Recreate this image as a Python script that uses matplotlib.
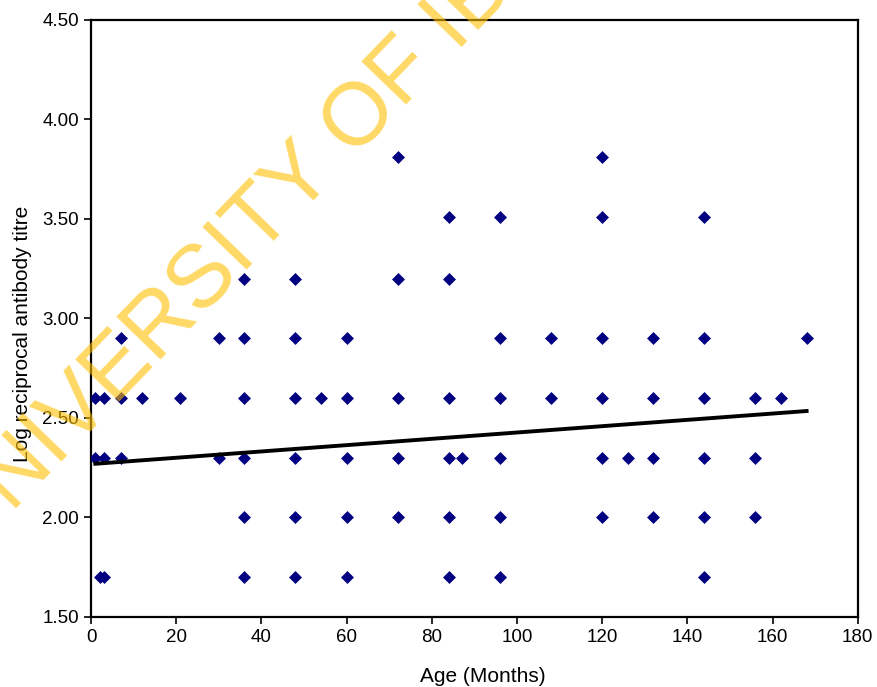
import numpy as np
import matplotlib
matplotlib.use('Agg')
import matplotlib.pyplot as plt
from matplotlib.ticker import FormatStrFormatter

plt.rcParams['font.family'] = ['Liberation Sans', 'DejaVu Sans']

# Age (months) at each titre level (log10 of reciprocal titre)
ages_170 = [2, 3, 36, 48, 60, 84, 96, 144]
ages_200 = [36, 48, 60, 72, 84, 96, 120, 132, 144, 156]
ages_230 = [1, 3, 7, 30, 36, 48, 60, 72, 84, 87, 96, 120, 126, 132, 144, 156]
ages_260 = [1, 3, 7, 12, 21, 36, 48, 54, 60, 72, 84, 96, 108, 120, 132, 144, 156, 162]
ages_290 = [7, 30, 36, 48, 60, 96, 108, 120, 132, 144, 168]
ages_320 = [36, 48, 72, 84]
ages_351 = [84, 96, 120, 144]
ages_381 = [72, 120]

levels = [1.70, 2.00, 2.30, 2.60, 2.90, 3.20, 3.51, 3.81]
groups = [ages_170, ages_200, ages_230, ages_260, ages_290, ages_320, ages_351, ages_381]

# trend line end points
trend_x = [1, 168]
trend_y = [2.27, 2.535]

x = np.concatenate([np.array(g, dtype=float) for g in groups])
y = np.concatenate([np.full(len(g), lv) for g, lv in zip(groups, levels)])

fig = plt.figure(figsize=(8.77, 6.87), dpi=100)
ax = fig.add_axes([0.1038, 0.1019, 0.8742, 0.869])

ax.scatter(x, y, marker='D', s=6.6**2, color='#000080', linewidths=0, zorder=3)
ax.plot(trend_x, trend_y, color='black', linewidth=2.8, zorder=4)

ax.set_xlim(0, 180)
ax.set_ylim(1.5, 4.5)
ax.set_xticks(np.arange(0, 181, 20))
ax.set_yticks(np.arange(1.5, 4.51, 0.5))
ax.yaxis.set_major_formatter(FormatStrFormatter('%.2f'))
ax.tick_params(direction='out', length=5, width=1.2, labelsize=13.5, colors='black')

for s in ax.spines.values():
    s.set_linewidth(1.6)

ax.set_xlabel('Age (Months)', fontsize=15)
ax.set_ylabel('Log reciprocal antibody titre', fontsize=15)
ax.xaxis.set_label_coords(0.511, -0.084)
ax.yaxis.set_label_coords(-0.077, 0.474)

# watermark
fig.text(-0.037, 0.186, 'UNIVERSITY OF IBADAN', fontsize=64, color='#FFC000',
         alpha=0.6, rotation=46, rotation_mode='anchor', ha='left', va='baseline',
         zorder=10)

fig.savefig('out.png', dpi=100)
